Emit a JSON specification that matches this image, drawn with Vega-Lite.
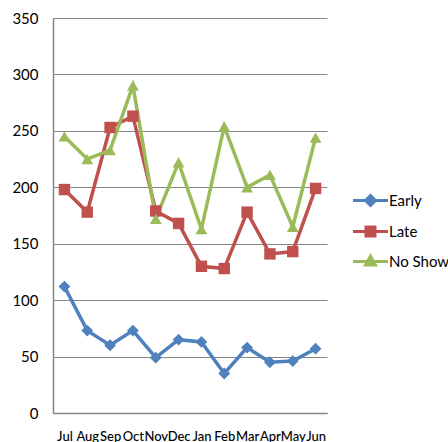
{
  "$schema": "https://vega.github.io/schema/vega-lite/v6.json",
  "width": 274,
  "height": 395,
  "autosize": {"type": "none"},
  "padding": {"left": 53, "top": 18, "right": 121, "bottom": 29},
  "background": "white",
  "config": {
    "view": {"stroke": null},
    "font": "Lato",
    "axis": {"labelFont": "Lato", "labelColor": "#000000", "domainColor": "#868686", "gridColor": "#868686", "ticks": false, "title": null},
    "legend": {"labelFont": "Lato", "labelColor": "#000000"}
  },
  "data": {
    "values": [
      {"month": "Jul", "series": "Early", "value": 112},
      {"month": "Aug", "series": "Early", "value": 73},
      {"month": "Sep", "series": "Early", "value": 60},
      {"month": "Oct", "series": "Early", "value": 73},
      {"month": "Nov", "series": "Early", "value": 49},
      {"month": "Dec", "series": "Early", "value": 65},
      {"month": "Jan", "series": "Early", "value": 63},
      {"month": "Feb", "series": "Early", "value": 35},
      {"month": "Mar", "series": "Early", "value": 58},
      {"month": "Apr", "series": "Early", "value": 45},
      {"month": "May", "series": "Early", "value": 46},
      {"month": "Jun", "series": "Early", "value": 57},
      {"month": "Jul", "series": "Late", "value": 198},
      {"month": "Aug", "series": "Late", "value": 178},
      {"month": "Sep", "series": "Late", "value": 253},
      {"month": "Oct", "series": "Late", "value": 263},
      {"month": "Nov", "series": "Late", "value": 179},
      {"month": "Dec", "series": "Late", "value": 168},
      {"month": "Jan", "series": "Late", "value": 130},
      {"month": "Feb", "series": "Late", "value": 128},
      {"month": "Mar", "series": "Late", "value": 178},
      {"month": "Apr", "series": "Late", "value": 141},
      {"month": "May", "series": "Late", "value": 143},
      {"month": "Jun", "series": "Late", "value": 199},
      {"month": "Jul", "series": "No Show", "value": 245},
      {"month": "Aug", "series": "No Show", "value": 225},
      {"month": "Sep", "series": "No Show", "value": 233},
      {"month": "Oct", "series": "No Show", "value": 290},
      {"month": "Nov", "series": "No Show", "value": 172},
      {"month": "Dec", "series": "No Show", "value": 222},
      {"month": "Jan", "series": "No Show", "value": 163},
      {"month": "Feb", "series": "No Show", "value": 254},
      {"month": "Mar", "series": "No Show", "value": 200},
      {"month": "Apr", "series": "No Show", "value": 211},
      {"month": "May", "series": "No Show", "value": 165},
      {"month": "Jun", "series": "No Show", "value": 244}
    ]
  },
  "encoding": {
    "x": {
      "field": "month",
      "type": "ordinal",
      "sort": ["Jul", "Aug", "Sep", "Oct", "Nov", "Dec", "Jan", "Feb", "Mar", "Apr", "May", "Jun"],
      "scale": {"type": "point", "padding": 0.5},
      "axis": {"labelAngle": 0, "labelFontSize": 13, "labelFontWeight": 500, "labelPadding": 17, "labelOverlap": false, "grid": false, "domainWidth": 1.5}
    },
    "y": {
      "field": "value",
      "type": "quantitative",
      "scale": {"domain": [0, 350], "nice": false},
      "axis": {"values": [0, 50, 100, 150, 200, 250, 300, 350], "labelFontSize": 15, "labelPadding": 15, "grid": true, "gridWidth": 1, "domainWidth": 1.5}
    },
    "color": {
      "field": "series",
      "type": "nominal",
      "scale": {"domain": ["Early", "Late", "No Show"], "range": ["#4F81BD", "#C0504D", "#9BBB59"]}
    }
  },
  "layer": [
    {
      "mark": {"type": "line", "strokeWidth": 3.5}
    },
    {
      "transform": [{"filter": "datum.series === 'Early'"}],
      "mark": {"type": "point", "filled": true, "opacity": 1, "size": 140, "shape": "diamond"}
    },
    {
      "transform": [{"filter": "datum.series === 'Late'"}],
      "mark": {"type": "point", "filled": true, "opacity": 1, "size": 130, "shape": "square"}
    },
    {
      "transform": [{"filter": "datum.series === 'No Show'"}],
      "mark": {"type": "point", "filled": true, "opacity": 1, "size": 140, "shape": "triangle-up"}
    },
    {
      "mark": {"type": "point", "filled": true, "opacity": 0, "size": 400},
      "encoding": {
        "shape": {
          "field": "series",
          "type": "nominal",
          "scale": {
            "domain": ["Early", "Late", "No Show"],
            "range": [
              "M-1.75,0H1.75M0,-0.5L0.5,0L0,0.5L-0.5,0Z",
              "M-1.75,0H1.75M-0.45,-0.45H0.45V0.45H-0.45Z",
              "M-1.75,0H1.75M0,-0.55L0.5,0.35H-0.5Z"
            ]
          },
          "legend": {
            "title": null,
            "orient": "none",
            "legendX": 306,
            "legendY": 171,
            "symbolSize": 400,
            "symbolStrokeWidth": 3,
            "symbolOpacity": 1,
            "labelFontSize": 15,
            "labelOffset": 7,
            "rowPadding": 8,
            "encode": {
              "symbols": {
                "update": {
                  "stroke": {"scale": "color", "field": "value"},
                  "fill": {"scale": "color", "field": "value"},
                  "strokeWidth": {"value": 3},
                  "opacity": {"value": 1}
                }
              }
            }
          }
        }
      }
    }
  ]
}
